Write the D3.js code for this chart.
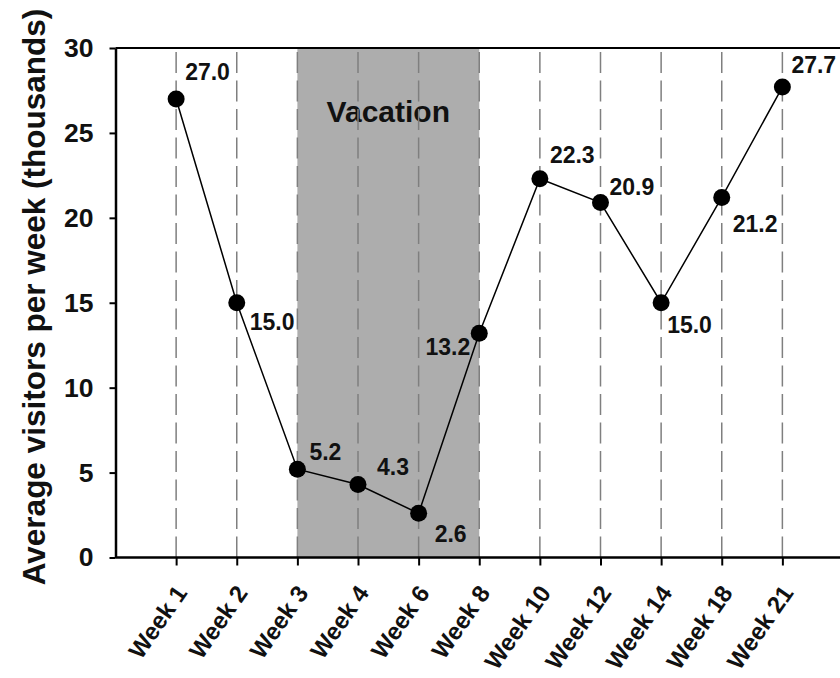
<!DOCTYPE html>
<html>
<head>
<meta charset="utf-8">
<script src="https://cdn.jsdelivr.net/npm/d3@7"></script>
<style>
  body { margin: 0; background: #fff; }
  svg { display: block; font-family: "Liberation Sans", Arial, sans-serif; }
</style>
</head>
<body>
<svg id="chart" width="840" height="678"></svg>
<script>
const weeks = ["Week 1","Week 2","Week 3","Week 4","Week 6","Week 8","Week 10","Week 12","Week 14","Week 18","Week 21"];
const visitors = [27.0, 15.0, 5.2, 4.3, 2.6, 13.2, 22.3, 20.9, 15.0, 21.2, 27.7];
const yTicks = [0, 5, 10, 15, 20, 25, 30];
const vacationRange = ["Week 3", "Week 8"];
const vacationLabel = "Vacation";
const yTitle = "Average visitors per week (thousands)";
// label placement offsets (layout only): [dx, dy, anchor]
const labelOffsets = [[9,-19,"start"],[13,27,"start"],[12,-9,"start"],[19,-9.5,"start"],[16,29,"start"],[-9,22,"end"],[10,-16,"start"],[9,-8,"start"],[6,30,"start"],[11,35,"start"],[9,-14,"start"]];

const svg = d3.select("#chart");
const W = 840, H = 678;
const x0 = 115.5, yTop = 48, yBot = 557.5;

const x = d3.scalePoint().domain(weeks).range([x0, 843]).padding(1);
const y = d3.scaleLinear().domain([0, 30]).range([yBot, yTop]);

// vacation shading
svg.append("rect")
  .attr("x", x(vacationRange[0]))
  .attr("y", y(30))
  .attr("width", x(vacationRange[1]) - x(vacationRange[0]))
  .attr("height", y(0) - y(30))
  .attr("fill", "#adadad");

svg.append("text")
  .attr("x", (x(vacationRange[0]) + x(vacationRange[1])) / 2)
  .attr("y", 122)
  .attr("text-anchor", "middle")
  .attr("font-size", 30)
  .attr("font-weight", "bold")
  .attr("fill", "#111")
  .text(vacationLabel);

// dashed vertical lines
svg.append("g").selectAll("line").data(weeks).join("line")
  .attr("x1", d => x(d)).attr("x2", d => x(d))
  .attr("y1", y(0)).attr("y2", y(30))
  .attr("stroke", "#7f7f7f")
  .attr("stroke-width", 1.5)
  .attr("stroke-dasharray", "21,7.5");

// top frame line
svg.append("line")
  .attr("x1", x0).attr("x2", W)
  .attr("y1", y(30)).attr("y2", y(30))
  .attr("stroke", "#000").attr("stroke-width", 2);

// y axis
const yAxis = svg.append("g")
  .attr("transform", `translate(${x0},0)`)
  .call(d3.axisLeft(y).tickValues(yTicks).tickSize(6).tickPadding(16).tickSizeOuter(0));
yAxis.select(".domain").attr("stroke-width", 2.5);
yAxis.selectAll(".tick line").attr("stroke-width", 2);
yAxis.selectAll(".tick text")
  .attr("font-size", 26.5).attr("font-weight", "bold")
  .attr("font-family", "Liberation Sans, Arial, sans-serif")
  .attr("fill", "#111");

// x axis
const xAxis = svg.append("g")
  .attr("transform", `translate(0,${yBot})`)
  .call(d3.axisBottom(x).tickSize(8).tickSizeOuter(0));
xAxis.select(".domain").remove();
xAxis.selectAll(".tick line").attr("stroke-width", 2);
xAxis.selectAll(".tick text")
  .attr("font-size", 24).attr("font-weight", "bold")
  .attr("font-family", "Liberation Sans, Arial, sans-serif")
  .attr("fill", "#111")
  .attr("text-anchor", "end")
  .attr("dy", null)
  .attr("y", 0)
  .attr("transform", "translate(11.5,35.5) rotate(-55)");
svg.append("line")
  .attr("x1", x0).attr("x2", W)
  .attr("y1", yBot).attr("y2", yBot)
  .attr("stroke", "#000").attr("stroke-width", 2.5);

// line
const pts = weeks.map((w, i) => [x(w), y(visitors[i])]);
svg.append("path")
  .attr("d", d3.line()(pts))
  .attr("fill", "none")
  .attr("stroke", "#000")
  .attr("stroke-width", 1.5);

svg.append("g").selectAll("circle").data(pts).join("circle")
  .attr("cx", d => d[0]).attr("cy", d => d[1])
  .attr("r", 8.5).attr("fill", "#000");

// value labels
svg.append("g").selectAll("text").data(visitors).join("text")
  .attr("x", (d, i) => pts[i][0] + labelOffsets[i][0])
  .attr("y", (d, i) => pts[i][1] + labelOffsets[i][1])
  .attr("text-anchor", (d, i) => labelOffsets[i][2])
  .attr("font-size", 23).attr("font-weight", "bold")
  .attr("fill", "#111")
  .text(d => d.toFixed(1));

// y title
svg.append("text")
  .attr("transform", `translate(45,297) rotate(-90)`)
  .attr("text-anchor", "middle")
  .attr("font-size", 31.5).attr("font-weight", "bold")
  .attr("fill", "#111")
  .text(yTitle);
</script>
</body>
</html>
